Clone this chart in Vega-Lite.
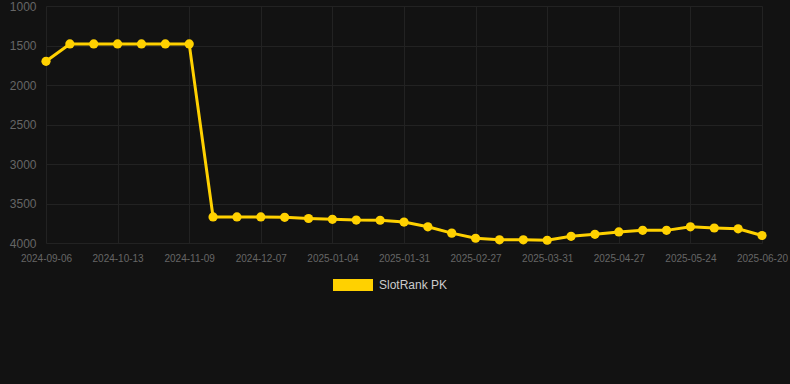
{
  "$schema": "https://vega.github.io/schema/vega-lite/v6.json",
  "width": 752,
  "height": 237,
  "autosize": "none",
  "padding": {"left": 38, "top": 6, "right": 0, "bottom": 141},
  "background": "#121212",
  "config": {
    "view": {"stroke": null},
    "font": "Liberation Sans"
  },
  "data": {
    "values": [
      {"date": "2024-09-06", "rank": 1700, "series": "SlotRank PK"},
      {"date": "2024-09-18", "rank": 1480, "series": "SlotRank PK"},
      {"date": "2024-10-01", "rank": 1480, "series": "SlotRank PK"},
      {"date": "2024-10-13", "rank": 1480, "series": "SlotRank PK"},
      {"date": "2024-10-22", "rank": 1480, "series": "SlotRank PK"},
      {"date": "2024-10-31", "rank": 1480, "series": "SlotRank PK"},
      {"date": "2024-11-09", "rank": 1480, "series": "SlotRank PK"},
      {"date": "2024-11-18", "rank": 3670, "series": "SlotRank PK"},
      {"date": "2024-11-27", "rank": 3670, "series": "SlotRank PK"},
      {"date": "2024-12-07", "rank": 3670, "series": "SlotRank PK"},
      {"date": "2024-12-16", "rank": 3675, "series": "SlotRank PK"},
      {"date": "2024-12-25", "rank": 3690, "series": "SlotRank PK"},
      {"date": "2025-01-04", "rank": 3700, "series": "SlotRank PK"},
      {"date": "2025-01-13", "rank": 3710, "series": "SlotRank PK"},
      {"date": "2025-01-22", "rank": 3712, "series": "SlotRank PK"},
      {"date": "2025-01-31", "rank": 3735, "series": "SlotRank PK"},
      {"date": "2025-02-09", "rank": 3795, "series": "SlotRank PK"},
      {"date": "2025-02-18", "rank": 3875, "series": "SlotRank PK"},
      {"date": "2025-02-27", "rank": 3940, "series": "SlotRank PK"},
      {"date": "2025-03-09", "rank": 3960, "series": "SlotRank PK"},
      {"date": "2025-03-20", "rank": 3960, "series": "SlotRank PK"},
      {"date": "2025-03-31", "rank": 3965, "series": "SlotRank PK"},
      {"date": "2025-04-09", "rank": 3915, "series": "SlotRank PK"},
      {"date": "2025-04-18", "rank": 3890, "series": "SlotRank PK"},
      {"date": "2025-04-27", "rank": 3860, "series": "SlotRank PK"},
      {"date": "2025-05-06", "rank": 3840, "series": "SlotRank PK"},
      {"date": "2025-05-15", "rank": 3840, "series": "SlotRank PK"},
      {"date": "2025-05-24", "rank": 3795, "series": "SlotRank PK"},
      {"date": "2025-06-02", "rank": 3810, "series": "SlotRank PK"},
      {"date": "2025-06-11", "rank": 3820, "series": "SlotRank PK"},
      {"date": "2025-06-20", "rank": 3905, "series": "SlotRank PK"}
    ]
  },
  "encoding": {
    "x": {
      "field": "date",
      "type": "ordinal",
      "sort": null,
      "scale": {"type": "point", "range": [8, 724], "padding": 0},
      "axis": {
        "title": null,
        "values": ["2024-09-06", "2024-10-13", "2024-11-09", "2024-12-07", "2025-01-04", "2025-01-31", "2025-02-27", "2025-03-31", "2025-04-27", "2025-05-24", "2025-06-20"],
        "labelAngle": 0,
        "labelFontSize": 10,
        "labelColor": "#666666",
        "labelPadding": 10,
        "labelBound": false,
        "ticks": false,
        "domain": false,
        "grid": true,
        "gridColor": "#222222",
        "gridWidth": 1
      }
    },
    "y": {
      "field": "rank",
      "type": "quantitative",
      "scale": {"domain": [1000, 4000], "reverse": true, "nice": false, "zero": false},
      "axis": {
        "title": null,
        "format": "d",
        "values": [1000, 1500, 2000, 2500, 3000, 3500, 4000],
        "labelFontSize": 12,
        "labelColor": "#666666",
        "labelPadding": 2,
        "ticks": false,
        "domain": false,
        "grid": true,
        "gridColor": "#222222",
        "gridWidth": 1
      }
    }
  },
  "layer": [
    {
      "mark": {"type": "line", "color": "#FFD100", "strokeWidth": 3},
      "encoding": {}
    },
    {
      "mark": {"type": "point", "filled": true, "size": 85, "opacity": 1},
      "encoding": {
        "color": {
          "field": "series",
          "type": "nominal",
          "scale": {"range": ["#FFD100"]},
          "legend": {
            "title": null,
            "orient": "none",
            "legendX": 295,
            "legendY": 259,
            "symbolType": "M-1,-0.3H1V0.3H-1Z",
            "symbolSize": 1600,
            "symbolStrokeWidth": 0,
            "symbolOpacity": 1,
            "labelColor": "#cccccc",
            "labelFontSize": 12,
            "labelOffset": 6
          }
        }
      }
    }
  ]
}
